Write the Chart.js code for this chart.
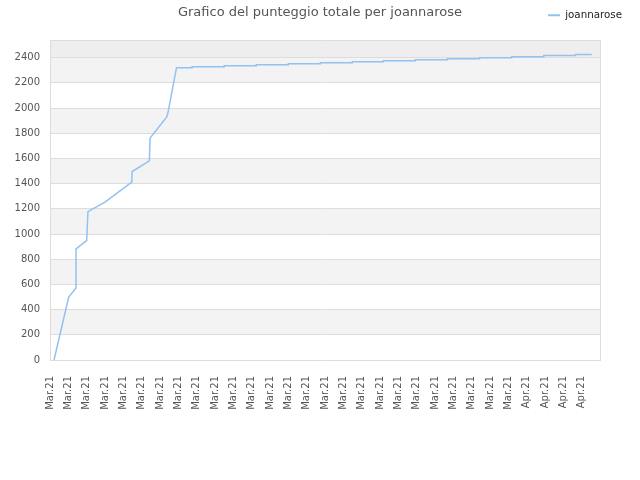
<!DOCTYPE html>
<html>
<head>
<meta charset="utf-8">
<script src="https://cdn.jsdelivr.net/npm/chart.js@4/dist/chart.umd.min.js"></script>
<style>
  body { margin: 0; background: #fff; }
  #wrap { position: relative; width: 640px; height: 480px; }
  #title {
    position: absolute; left: 0; top: 4px; width: 640px;
    text-align: center; font: 13px "DejaVu Sans", sans-serif;
    line-height: 16px; color: #555;
  }
</style>
</head>
<body>
<div id="wrap">
  <canvas id="chart" width="640" height="480"></canvas>
  <div id="title">Grafico del punteggio totale per joannarose</div>
</div>
<script>
// x labels under the axis, one per unit
var tickLabels = [
  'Mar.21', 'Mar.21', 'Mar.21', 'Mar.21', 'Mar.21', 'Mar.21', 'Mar.21', 'Mar.21',
  'Mar.21', 'Mar.21', 'Mar.21', 'Mar.21', 'Mar.21', 'Mar.21', 'Mar.21', 'Mar.21',
  'Mar.21', 'Mar.21', 'Mar.21', 'Mar.21', 'Mar.21', 'Mar.21', 'Mar.21', 'Mar.21',
  'Mar.21', 'Mar.21', 'Apr.21', 'Apr.21', 'Apr.21', 'Apr.21'
];

// vertices of the score line (x in label units)
var pointX = [
  0.22, 1.02, 1.42, 1.42, 2.0, 2.07, 3.0, 4.46, 4.48, 5.42, 5.46, 6.37, 6.43, 6.9,
  7.75, 7.75, 9.5, 9.5, 11.25, 11.25, 13.0, 13.0, 14.75, 14.75, 16.49, 16.49,
  18.19, 18.19, 19.93, 19.93, 21.68, 21.68, 23.43, 23.43, 25.18, 25.18,
  26.93, 26.93, 28.67, 28.67, 29.55
];
var totalScore = [
  0, 500, 572, 882, 948, 1178, 1253, 1412, 1496, 1581, 1761, 1929, 1960, 2320,
  2320, 2328, 2328, 2336, 2336, 2344, 2344, 2352, 2352, 2360, 2360, 2368,
  2368, 2376, 2376, 2384, 2384, 2392, 2392, 2400, 2400, 2408,
  2408, 2416, 2416, 2424, 2424
];

var yMax = 2540;
var yStep = 200;
var font = { family: 'DejaVu Sans', size: 10 };

// alternating grey bands behind the grid, plus top/right frame
var plotBands = {
  id: 'plotBands',
  afterLayout: function(chart) {
    // keep the legend on the title row instead of pushed down to the plot
    var l = chart.legend;
    var h = l.bottom - l.top;
    l.top = 0;
    l.bottom = h;
  },
  beforeDraw: function(chart) {
    var ctx = chart.ctx, area = chart.chartArea, y = chart.scales.y;
    var ticks = y.ticks;
    ctx.save();
    for (var i = 0; i < ticks.length; i++) {
      var bottom = y.getPixelForValue(ticks[i].value);
      var top = i < ticks.length - 1 ? y.getPixelForValue(ticks[i + 1].value) : area.top;
      ctx.fillStyle = i === ticks.length - 1 ? '#eeeeee' : (i % 2 ? '#f3f3f3' : '#ffffff');
      ctx.fillRect(area.left, top, area.right - area.left, bottom - top);
    }
    ctx.restore();
  },
  afterDraw: function(chart) {
    var ctx = chart.ctx, area = chart.chartArea;
    ctx.save();
    ctx.strokeStyle = '#dddddd';
    ctx.lineWidth = 1;
    ctx.beginPath();
    ctx.moveTo(area.left, area.top + 0.5);
    ctx.lineTo(area.right + 0.5, area.top + 0.5);
    ctx.lineTo(area.right + 0.5, area.bottom);
    ctx.stroke();
    ctx.restore();
  }
};

var ctx = document.getElementById('chart').getContext('2d');

var chart = new Chart(ctx, {
  type: 'line',
  data: {
    datasets: [{
      label: 'joannarose',
      data: pointX.map(function(x, i) { return { x: x, y: totalScore[i] }; }),
      borderColor: 'rgb(146,194,240)',
      backgroundColor: 'rgb(146,194,240)',
      borderWidth: 1.5,
      pointRadius: 0,
      tension: 0,
      fill: false
    }]
  },
  options: {
    responsive: false,
    animation: false,
    layout: { padding: { top: 0, right: 8, bottom: 0, left: 0 } },
    plugins: {
      title: { display: false },
      tooltip: { enabled: false },
      legend: {
        position: 'top',
        align: 'end',
        labels: {
          usePointStyle: true,
          pointStyle: 'line',
          pointStyleWidth: 12,
          padding: 10,
          color: '#222',
          font: { family: 'DejaVu Sans', size: 10.3 },
          generateLabels: function(chart) {
            return Chart.defaults.plugins.legend.labels.generateLabels(chart).map(function(l) {
              l.lineWidth = 2;
              return l;
            });
          }
        }
      }
    },
    scales: {
      x: {
        type: 'linear',
        min: 0,
        max: tickLabels.length,
        grid: { display: false },
        border: { color: '#dddddd' },
        ticks: {
          stepSize: 1,
          autoSkip: false,
          maxRotation: 90,
          minRotation: 90,
          padding: 8,
          color: '#555',
          font: font,
          callback: function(v) { return tickLabels[v] || ''; }
        },
        afterFit: function(s) { s.height = 120; s.paddingRight = 40; }
      },
      y: {
        min: 0,
        max: yMax,
        grid: { color: '#dddddd', drawTicks: false },
        border: { color: '#dddddd' },
        ticks: {
          stepSize: yStep,
          includeBounds: false,
          padding: 10,
          color: '#555',
          font: font,
          callback: function(v) { return String(v); }
        },
        afterFit: function(s) { s.width = 50; s.paddingTop = 40; }
      }
    }
  },
  plugins: [plotBands]
});
</script>
</body>
</html>
